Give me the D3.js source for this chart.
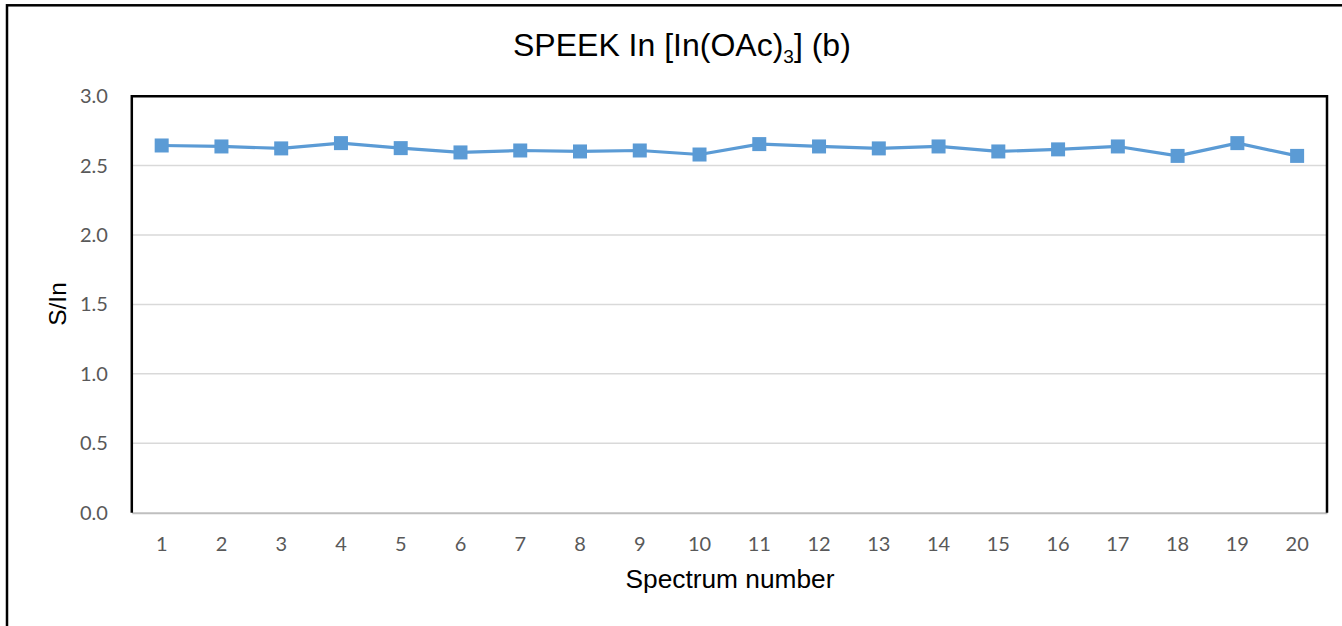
<!DOCTYPE html>
<html>
<head>
<meta charset="utf-8">
<script src="https://cdn.jsdelivr.net/npm/d3@7"></script>
<style>
  html, body { margin: 0; padding: 0; background: #fff; }
  svg { display: block; }
</style>
</head>
<body>
<svg id="chart" width="1342" height="626"></svg>
<script>
// Spectrum numbers and measured S/In ratios
const spectra = ["1","2","3","4","5","6","7","8","9","10","11","12","13","14","15","16","17","18","19","20"];
const ratioSIn = [2.645, 2.638, 2.624, 2.662, 2.626, 2.595, 2.609, 2.602, 2.609, 2.580,
                  2.655, 2.638, 2.624, 2.638, 2.602, 2.617, 2.638, 2.570, 2.662, 2.570];
const yTicks = [0, 0.5, 1.0, 1.5, 2.0, 2.5, 3.0];

const svg = d3.select("#chart");
const plot = { left: 131.8, right: 1327, top: 96.2, bottom: 512.7 };

// outer chart frame
svg.append("rect")
  .attr("x", 7).attr("y", 5.3)
  .attr("width", 1400).attr("height", 700)
  .attr("fill", "none").attr("stroke", "#000").attr("stroke-width", 2.5);

const x = d3.scaleBand().domain(spectra).range([plot.left, plot.right]);
const y = d3.scaleLinear().domain([0, 3]).range([plot.bottom, plot.top]);

// horizontal gridlines
svg.append("g")
  .selectAll("line")
  .data(yTicks.filter(d => d > 0 && d < 3))
  .join("line")
  .attr("x1", plot.left).attr("x2", plot.right)
  .attr("y1", d => y(d)).attr("y2", d => y(d))
  .attr("stroke", "#d9d9d9").attr("stroke-width", 1.5);

// y axis labels
const yAxis = d3.axisLeft(y).tickValues(yTicks).tickFormat(d3.format(".1f")).tickSize(0).tickPadding(24);
const gy = svg.append("g").attr("transform", `translate(${plot.left},0)`).call(yAxis);
gy.select(".domain").remove();
gy.selectAll("text")
  .attr("fill", "#595959")
  .style("font-family", "Lato, 'Open Sans', sans-serif")
  .style("font-size", "20px");

// x axis labels and baseline
const xAxis = d3.axisBottom(x).tickSize(0).tickPadding(24);
const gx = svg.append("g").attr("transform", `translate(0,${plot.bottom})`).call(xAxis);
gx.select(".domain").attr("stroke", "#bfbfbf").attr("stroke-width", 2);
gx.selectAll("text")
  .attr("fill", "#595959")
  .style("font-family", "Lato, 'Open Sans', sans-serif")
  .style("font-size", "20px");

// plot-area frame (top, left, right)
svg.append("path")
  .attr("d", `M${plot.left},${plot.bottom}V${plot.top}H${plot.right}V${plot.bottom}`)
  .attr("fill", "none").attr("stroke", "#000").attr("stroke-width", 2.5);

// data line
const cx = (d, i) => x(spectra[i]) + x.bandwidth() / 2;
svg.append("path")
  .datum(ratioSIn)
  .attr("fill", "none")
  .attr("stroke", "#5b9bd5")
  .attr("stroke-width", 3.2)
  .attr("stroke-linejoin", "round")
  .attr("d", d3.line().x(cx).y(d => y(d)));

// square markers
const m = 14;
svg.append("g")
  .selectAll("rect")
  .data(ratioSIn)
  .join("rect")
  .attr("x", (d, i) => cx(d, i) - m / 2)
  .attr("y", d => y(d) - m / 2)
  .attr("width", m).attr("height", m)
  .attr("fill", "#5b9bd5");

// chart title with subscript
const title = svg.append("text")
  .attr("x", 513).attr("y", 56)
  .attr("text-anchor", "start")
  .style("font-family", "'Liberation Sans', Arial, sans-serif")
  .style("font-size", "32px")
  .attr("fill", "#000");
title.append("tspan").text("SPEEK In [In(OAc)");
title.append("tspan").attr("dy", 7).style("font-size", "19px").text("3");
title.append("tspan").attr("dy", -7).text("] (b)");

// axis titles
svg.append("text")
  .attr("x", 730).attr("y", 588)
  .attr("text-anchor", "middle")
  .style("font-family", "'Liberation Sans', Arial, sans-serif")
  .style("font-size", "26.3px")
  .text("Spectrum number");

svg.append("text")
  .attr("transform", "translate(66,304) rotate(-90)")
  .attr("text-anchor", "middle")
  .style("font-family", "'Liberation Sans', Arial, sans-serif")
  .style("font-size", "24.5px")
  .text("S/In");
</script>
</body>
</html>
